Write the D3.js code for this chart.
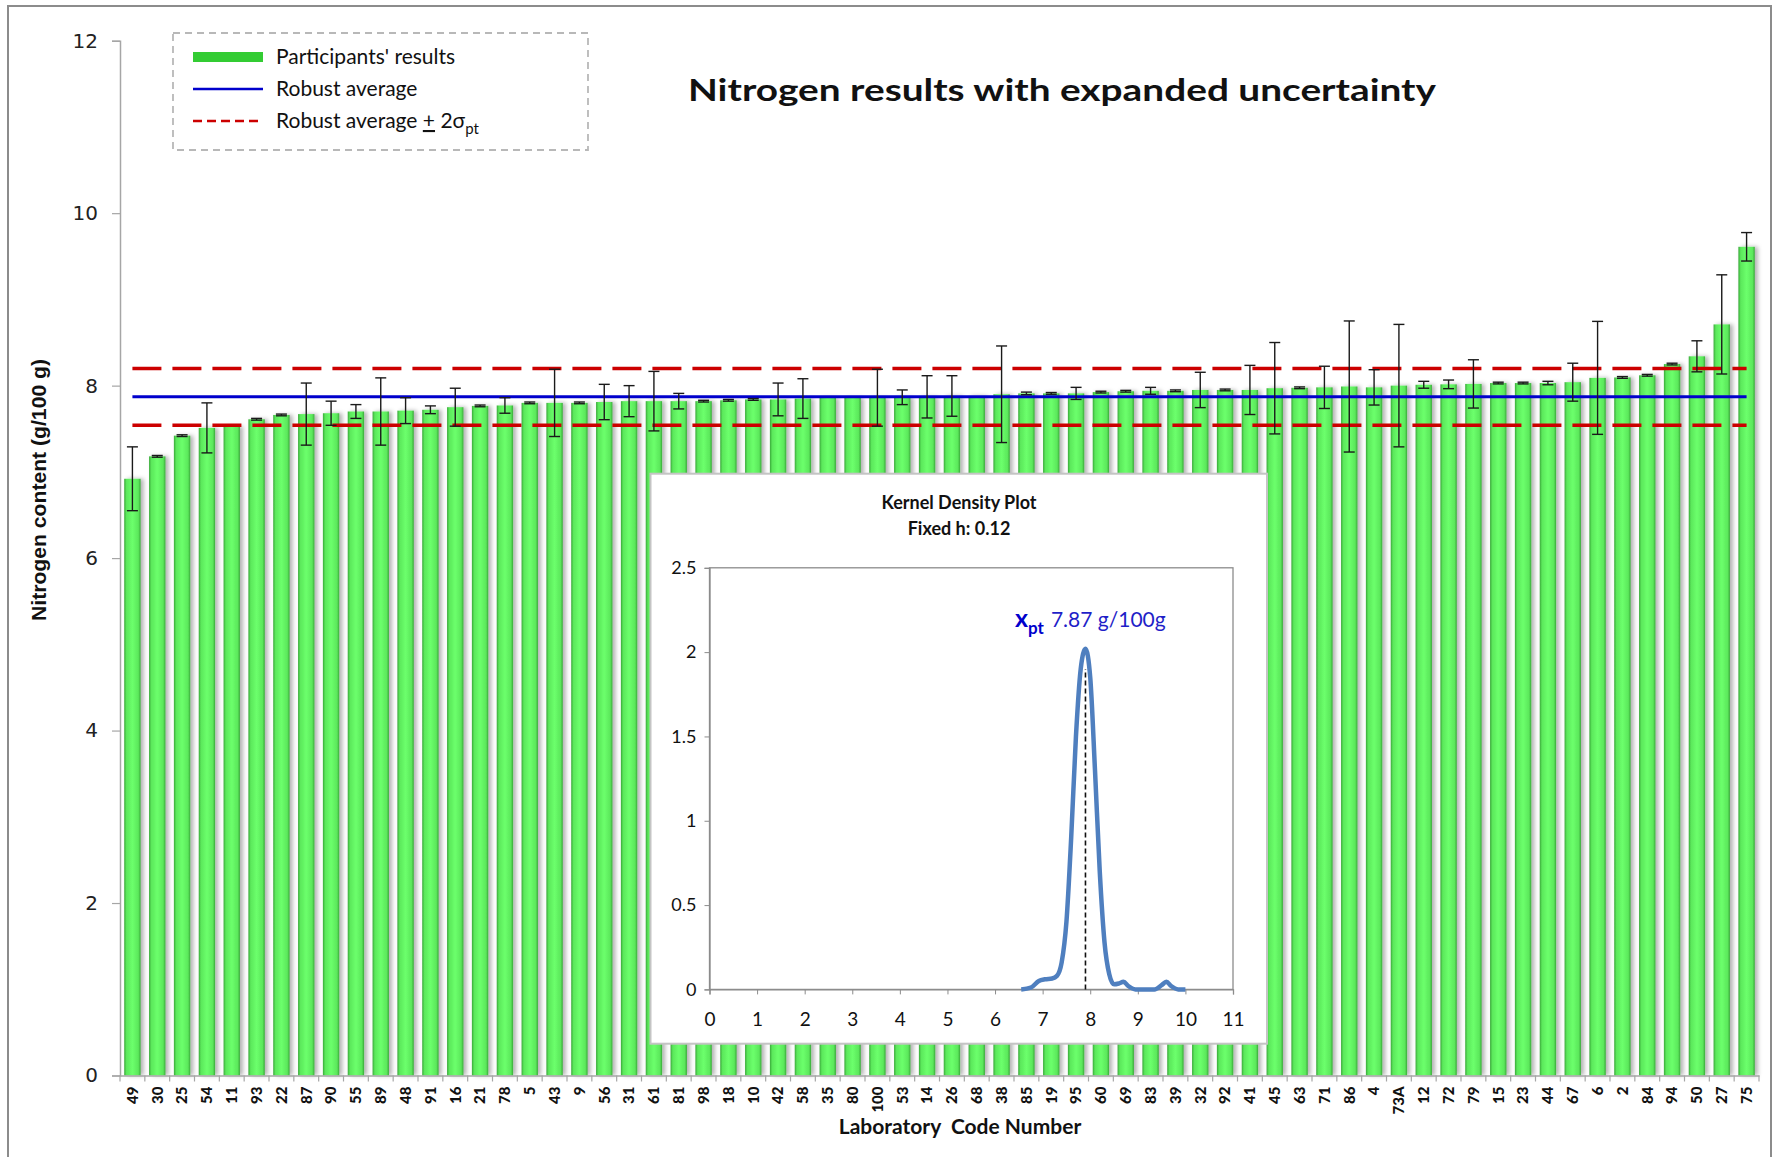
<!DOCTYPE html>
<html>
<head>
<meta charset="utf-8">
<script src="https://cdnjs.cloudflare.com/ajax/libs/d3/7.8.5/d3.min.js"></script>
<style>
  body { margin: 0; background: #fff; }
  text { font-family: Lato, "Open Sans", sans-serif; }
</style>
</head>
<body>
<div class="chart"></div>
<script>
// lab codes in plotted order (sorted by result)
var labCodes = ["49","30","25","54","11","93","22","87","90","55","89","48","91","16","21","78","5","43","9","56","31","61",
  "81","98","18","10","42","58","35","80","100","53","14","26","68","38","85","19","95","60","69","83","39","32",
  "92","41","45","63","71","86","4","73A","12","72","79","15","23","44","67","6","2","84","94","50","27","75"];

// nitrogen result, g/100 g
var results = [6.92,7.18,7.42,7.51,7.53,7.61,7.66,7.67,7.68,7.70,7.70,7.71,7.72,7.75,7.765,7.77,7.80,7.80,7.80,7.81,7.82,7.82,
  7.82,7.82,7.83,7.84,7.84,7.85,7.86,7.86,7.86,7.865,7.87,7.88,7.88,7.90,7.91,7.91,7.91,7.925,7.935,7.94,7.94,7.95,
  7.95,7.95,7.97,7.975,7.98,7.99,7.98,8.0,8.01,8.015,8.02,8.03,8.03,8.03,8.04,8.09,8.095,8.12,8.25,8.34,8.71,9.61];

// expanded uncertainty (half width of error bar)
var uncert = [0.37,0.01,0.01,0.29,0,0.01,0.01,0.36,0.14,0.08,0.39,0.15,0.045,0.22,0.01,0.09,0.01,0.39,0.01,0.205,0.18,0.345,
  0.09,0.01,0.01,0.01,0.19,0.23,0,0,0.33,0.085,0.245,0.235,0,0.56,0.015,0.01,0.07,0.01,0.01,0.04,0.01,0.205,
  0.01,0.285,0.53,0.01,0.245,0.76,0.205,0.71,0.04,0.05,0.28,0.01,0.01,0.02,0.22,0.655,0.01,0.01,0.01,0.18,0.575,0.165];

var yTicks = [0, 2, 4, 6, 8, 10, 12];
var robustAvg = 7.87;
var twoSigma = 0.33;

// kernel density curve
var kdeX = [6.55,6.75,6.92,7.05,7.2,7.3,7.4,7.5,7.6,7.7,7.8,7.9,8.0,8.1,8.2,8.3,8.4,8.5,8.6,8.7,8.8,8.95,9.35,9.5,9.6,9.7,9.85,10.0];
var kdeY = [0,0.01,0.05,0.06,0.065,0.08,0.16,0.4,0.9,1.5,1.9,2.02,1.85,1.3,0.7,0.28,0.09,0.03,0.035,0.045,0.02,0,0,0.025,0.045,0.02,0,0];
var kdeXTicks = [0,1,2,3,4,5,6,7,8,9,10,11];
var kdeYTicks = [0,0.5,1,1.5,2,2.5];
var kdePeakX = 7.9;

var svgWidth = 1777;
var svgHeight = 1157;

var svg = d3.select(".chart").append("svg")
  .attr("width", svgWidth)
  .attr("height", svgHeight);

var defs = svg.append("defs");
var grad = defs.append("linearGradient").attr("id", "barGrad")
  .attr("x1", "0%").attr("x2", "100%").attr("y1", "0%").attr("y2", "0%");
[["0%", "#3aa83a"], ["14%", "#5be85b"], ["50%", "#6cff6c"], ["86%", "#5be85b"], ["100%", "#3aa83a"]].forEach(function(s) {
  grad.append("stop").attr("offset", s[0]).attr("stop-color", s[1]);
});
var shadow = defs.append("filter").attr("id", "barShadow")
  .attr("x", "-30%").attr("y", "-5%").attr("width", "180%").attr("height", "110%");
shadow.append("feDropShadow").attr("dx", 3).attr("dy", 0).attr("stdDeviation", 2)
  .attr("flood-color", "#000").attr("flood-opacity", 0.3);

// outer frame
svg.append("rect")
  .attr("x", 8).attr("y", 6).attr("width", 1763).attr("height", 1170)
  .attr("fill", "none").attr("stroke", "#8c8c8c").attr("stroke-width", 2);

var xScale = d3.scaleBand()
  .domain(labCodes)
  .range([120, 1759])
  .paddingInner(0.34)
  .paddingOuter(0.17);

var yScale = d3.scaleLinear()
  .domain([0, 12])
  .range([1075.5, 40.7]);

// y axis
var yAxis = svg.append("g")
  .attr("transform", "translate(120,0)")
  .call(d3.axisLeft(yScale).tickValues(yTicks).tickSize(8).tickPadding(14));
yAxis.select(".domain").attr("stroke", "#a6a6a6").attr("stroke-width", 1.5);
yAxis.selectAll(".tick line").attr("stroke", "#a6a6a6").attr("stroke-width", 1.2);
yAxis.selectAll(".tick text")
  .attr("fill", "#222")
  .style("font-family", "'DejaVu Sans', sans-serif")
  .style("font-size", "20px");

// bars
var n = labCodes.length;
var bars = svg.append("g").selectAll("rect")
  .data(d3.range(n))
  .enter()
  .append("rect")
  .attr("x", i => xScale(labCodes[i]))
  .attr("y", i => yScale(results[i]))
  .attr("width", xScale.bandwidth())
  .attr("height", i => yScale(0) - yScale(results[i]))
  .attr("fill", "url(#barGrad)")
  .attr("filter", "url(#barShadow)");

// x axis
var xAxis = svg.append("g")
  .attr("transform", `translate(0, ${yScale(0)})`)
  .call(d3.axisBottom(xScale).tickSize(0).tickPadding(12));
xAxis.select(".domain").attr("stroke", "#a6a6a6").attr("stroke-width", 1.5);
xAxis.selectAll(".tick text")
  .attr("transform", "rotate(-90)")
  .attr("x", -11)
  .attr("y", 0)
  .attr("dy", "0.35em")
  .style("text-anchor", "end")
  .style("font-size", "15px")
  .style("font-weight", "900")
  .attr("fill", "#111");
// tick marks between categories
var step = xScale.step();
svg.append("g").selectAll("line")
  .data(d3.range(n + 1))
  .enter()
  .append("line")
  .attr("x1", i => 120 + i * step)
  .attr("x2", i => 120 + i * step)
  .attr("y1", yScale(0))
  .attr("y2", yScale(0) + 6)
  .attr("stroke", "#a6a6a6")
  .attr("stroke-width", 1.2);

// robust average lines
var lineX1 = xScale(labCodes[0]) + xScale.bandwidth() / 2;
var lineX2 = xScale(labCodes[n - 1]) + xScale.bandwidth() / 2;
[robustAvg + twoSigma, robustAvg - twoSigma].forEach(function(v) {
  svg.append("line")
    .attr("x1", lineX1).attr("x2", lineX2)
    .attr("y1", yScale(v)).attr("y2", yScale(v))
    .attr("stroke", "#cc0000").attr("stroke-width", 3.5)
    .attr("stroke-dasharray", "29,11");
});
svg.append("line")
  .attr("x1", lineX1).attr("x2", lineX2)
  .attr("y1", yScale(robustAvg)).attr("y2", yScale(robustAvg))
  .attr("stroke", "#0000cc").attr("stroke-width", 3);

// error bars
var errG = svg.append("g").attr("stroke", "#1a1a1a").attr("stroke-width", 1.4);
d3.range(n).filter(i => uncert[i] > 0).forEach(function(i) {
  var cx = xScale(labCodes[i]) + xScale.bandwidth() / 2;
  var hi = yScale(results[i] + uncert[i]);
  var lo = yScale(results[i] - uncert[i]);
  errG.append("line").attr("x1", cx).attr("x2", cx).attr("y1", hi).attr("y2", lo);
  errG.append("line").attr("x1", cx - 5.5).attr("x2", cx + 5.5).attr("y1", hi).attr("y2", hi);
  errG.append("line").attr("x1", cx - 5.5).attr("x2", cx + 5.5).attr("y1", lo).attr("y2", lo);
});

// axis titles
svg.append("text")
  .attr("transform", "translate(46, 490) rotate(-90)")
  .attr("text-anchor", "middle")
  .attr("textLength", 262)
  .attr("lengthAdjust", "spacingAndGlyphs")
  .style("font-family", "'Liberation Sans Narrow', 'Liberation Sans', sans-serif")
  .style("font-size", "20px")
  .style("font-weight", "bold")
  .attr("fill", "#111")
  .text("Nitrogen content (g/100 g)");

svg.append("text")
  .attr("x", 960).attr("y", 1134)
  .attr("text-anchor", "middle")
  .style("font-size", "21px")
  .style("font-weight", "bold")
  .attr("fill", "#111")
  .attr("xml:space", "preserve")
  .text("Laboratory  Code Number");

// chart title
svg.append("text")
  .attr("x", 688).attr("y", 101)
  .attr("textLength", 748)
  .attr("lengthAdjust", "spacingAndGlyphs")
  .style("font-size", "30px")
  .style("font-weight", "bold")
  .attr("fill", "#111")
  .text("Nitrogen results with expanded uncertainty");

// legend
var legend = svg.append("g");
legend.append("rect")
  .attr("x", 173).attr("y", 33).attr("width", 415).attr("height", 117)
  .attr("fill", "#fff").attr("stroke", "#b8b8b8").attr("stroke-width", 1.8)
  .attr("stroke-dasharray", "7,5");
legend.append("line").attr("x1", 193).attr("x2", 263).attr("y1", 57).attr("y2", 57)
  .attr("stroke", "#33cc33").attr("stroke-width", 10);
legend.append("line").attr("x1", 193).attr("x2", 263).attr("y1", 89).attr("y2", 89)
  .attr("stroke", "#0000cc").attr("stroke-width", 2.5);
legend.append("line").attr("x1", 193).attr("x2", 263).attr("y1", 121).attr("y2", 121)
  .attr("stroke", "#cc0000").attr("stroke-width", 2.5).attr("stroke-dasharray", "9,5");
var legendText = ["Participants' results", "Robust average"];
legendText.forEach(function(t, i) {
  legend.append("text").attr("x", 276).attr("y", 64 + i * 32)
    .style("font-size", "21px").attr("fill", "#111").text(t);
});
var lt = legend.append("text").attr("x", 276).attr("y", 128)
  .style("font-size", "21px").attr("fill", "#111");
lt.append("tspan").text("Robust average ");
lt.append("tspan").style("text-decoration", "underline").text("+");
lt.append("tspan").text(" 2σ");
lt.append("tspan").attr("dy", 6).style("font-size", "15px").text("pt");

// ---- inset: kernel density plot ----
var inset = svg.append("g");
inset.append("rect")
  .attr("x", 650.5).attr("y", 473.7).attr("width", 616.5).attr("height", 570)
  .attr("fill", "#fff").attr("stroke", "#c4c4c4").attr("stroke-width", 2);

var kx = d3.scaleLinear().domain([0, 11]).range([709.5, 1233]);
var ky = d3.scaleLinear().domain([0, 2.5]).range([989.4, 567.8]);

inset.append("rect")
  .attr("x", kx(0)).attr("y", ky(2.5))
  .attr("width", kx(11) - kx(0)).attr("height", ky(0) - ky(2.5))
  .attr("fill", "none").attr("stroke", "#8c8c8c").attr("stroke-width", 1.3);

var kxAxis = inset.append("g")
  .attr("transform", `translate(0, ${ky(0)})`)
  .call(d3.axisBottom(kx).tickValues(kdeXTicks).tickFormat(d3.format("d")).tickSize(5).tickPadding(18));
var kyAxis = inset.append("g")
  .attr("transform", `translate(${kx(0)}, 0)`)
  .call(d3.axisLeft(ky).tickValues(kdeYTicks).tickFormat(d => String(d)).tickSize(5).tickPadding(8));
[kxAxis, kyAxis].forEach(function(a) {
  a.select(".domain").attr("stroke", "#8c8c8c").attr("stroke-width", 1.3);
  a.selectAll(".tick line").attr("stroke", "#8c8c8c");
  a.selectAll(".tick text").style("font-size", "18px").attr("fill", "#111");
});
kxAxis.selectAll(".tick text").style("font-size", "19px");

inset.append("text")
  .attr("x", 959).attr("y", 509)
  .attr("text-anchor", "middle")
  .style("font-size", "18px").style("font-weight", "bold").attr("fill", "#111")
  .text("Kernel Density Plot");
inset.append("text")
  .attr("x", 959).attr("y", 535)
  .attr("text-anchor", "middle")
  .style("font-size", "18px").style("font-weight", "bold").attr("fill", "#111")
  .text("Fixed h: 0.12");

var kdeLine = d3.line()
  .x((d, i) => kx(kdeX[i]))
  .y(d => ky(d))
  .curve(d3.curveMonotoneX);
inset.append("path")
  .datum(kdeY)
  .attr("d", kdeLine)
  .attr("fill", "none")
  .attr("stroke", "#4f7fbf")
  .attr("stroke-width", 4.5)
  .attr("stroke-linejoin", "round");

inset.append("line")
  .attr("x1", kx(kdePeakX)).attr("x2", kx(kdePeakX))
  .attr("y1", ky(0)).attr("y2", ky(1.9))
  .attr("stroke", "#111").attr("stroke-width", 1.6)
  .attr("stroke-dasharray", "5,3");

var ann = inset.append("text").attr("x", 1015).attr("y", 627).attr("fill", "#1f1fc8");
ann.append("tspan").style("font-weight", "bold").style("font-size", "25px").attr("fill", "#0000cc").text("x");
ann.append("tspan").attr("dy", 7).style("font-weight", "bold").style("font-size", "17px").attr("fill", "#0000cc").text("pt");
ann.append("tspan").attr("dy", -7).attr("dx", 7).style("font-size", "21px").text(robustAvg.toFixed(2) + " g/100g");
</script>
</body>
</html>
